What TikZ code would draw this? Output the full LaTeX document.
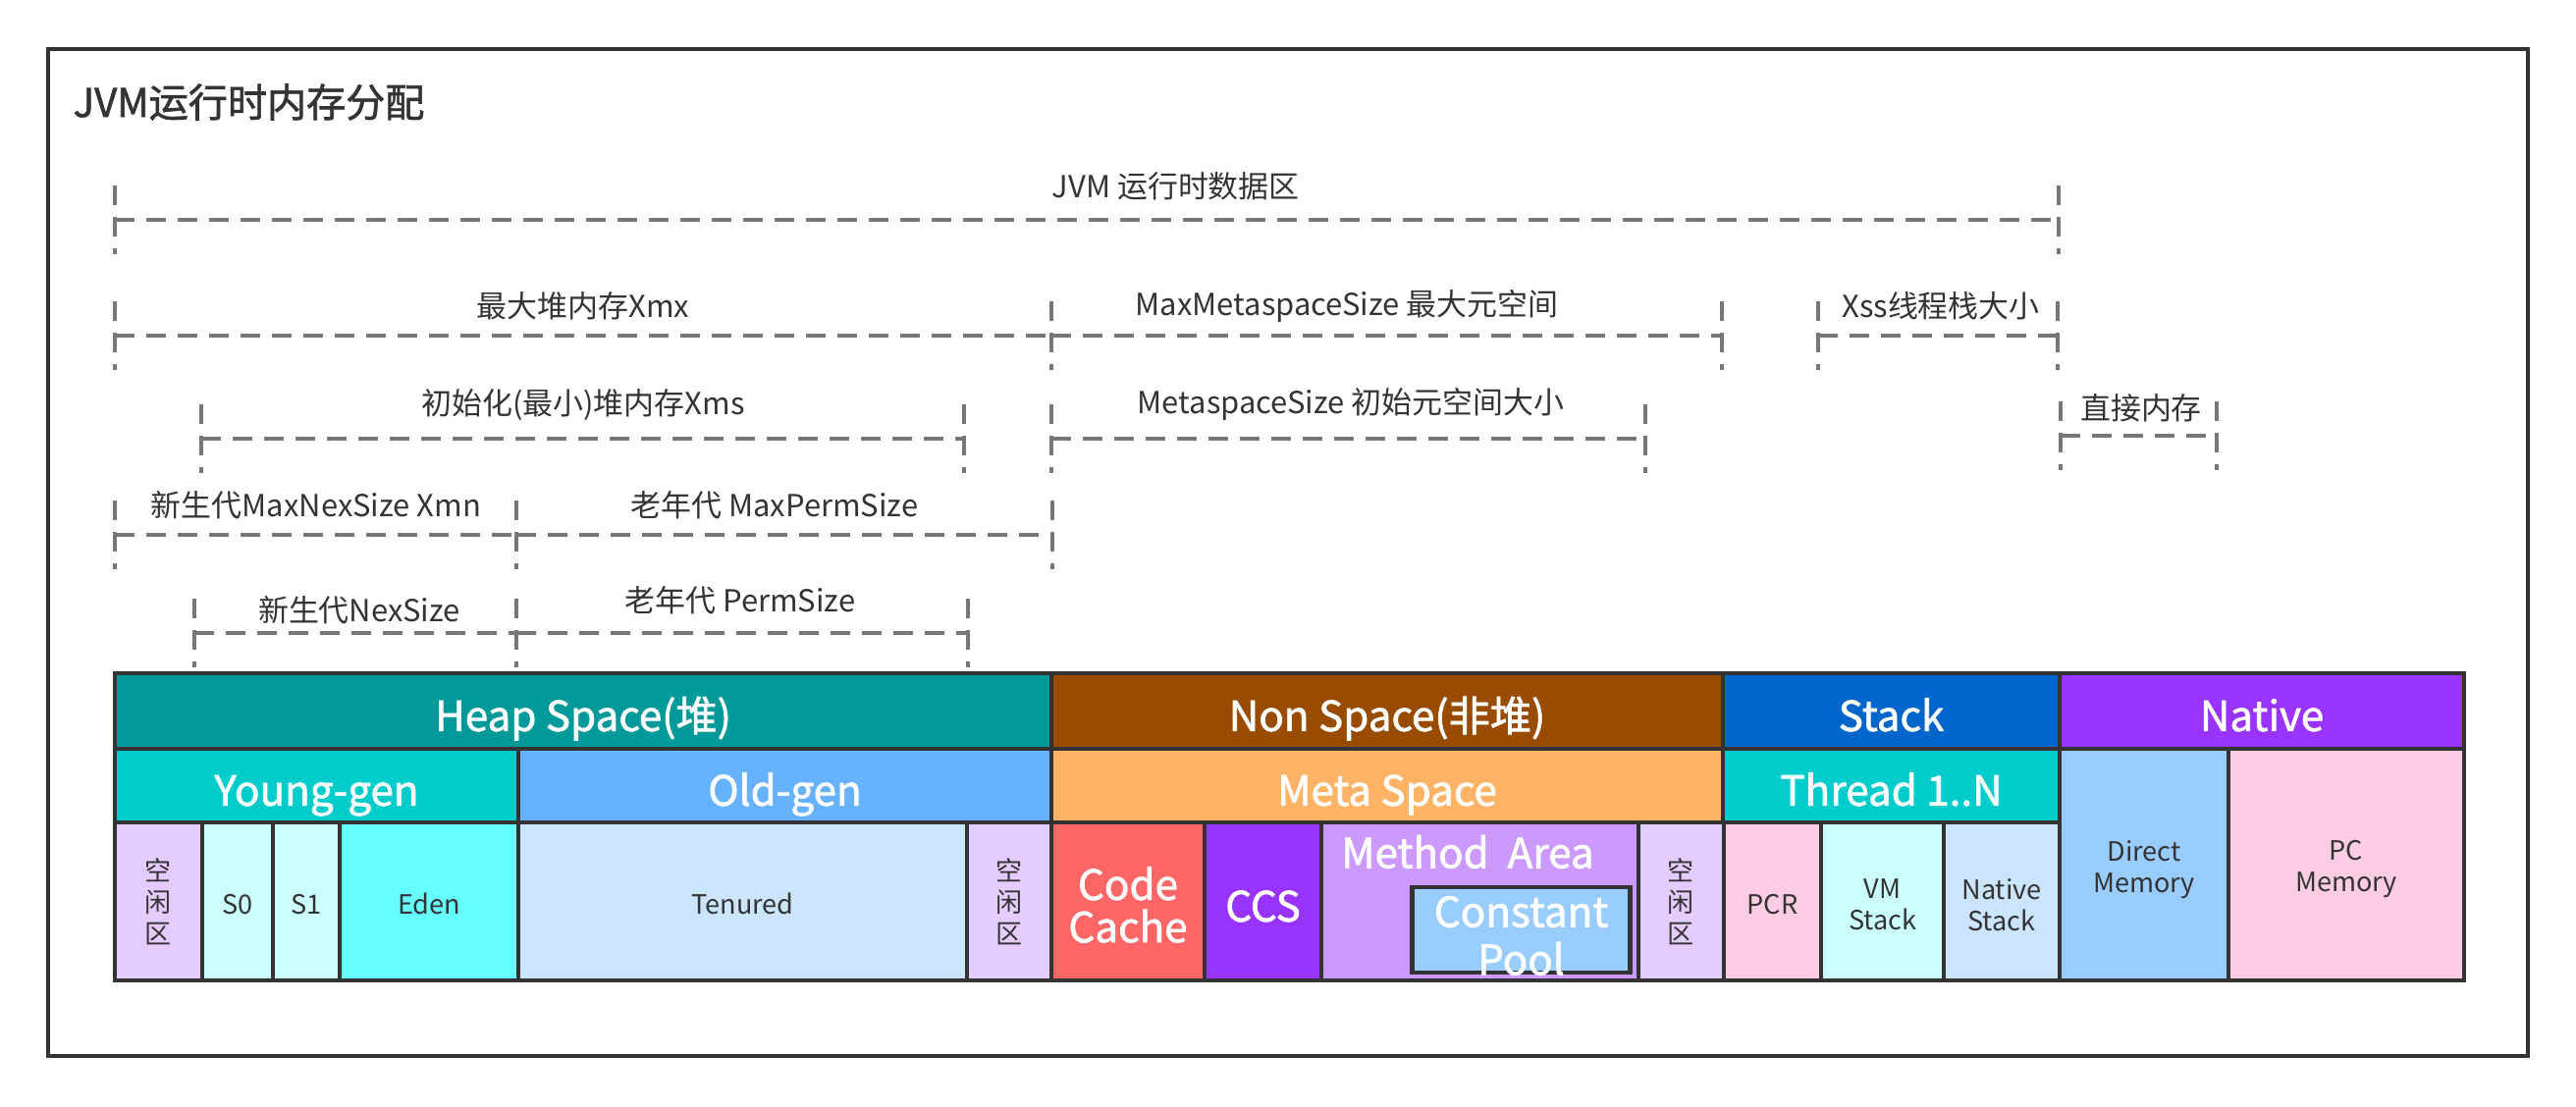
\documentclass[tikz,border=0pt]{standalone}
\usepackage{fontspec}
\setmainfont{Noto Sans CJK SC}
\newfontfamily\medfont[FakeBold=1.5]{Noto Sans CJK SC}
\usepackage{tikz}
\usetikzlibrary{positioning}

\definecolor{linec}{HTML}{333333}
\definecolor{txtc}{HTML}{333333}
\definecolor{dimc}{HTML}{777777}
\definecolor{heapc}{HTML}{009999}
\definecolor{nonheapc}{HTML}{994C00}
\definecolor{stackc}{HTML}{0066CC}
\definecolor{nativec}{HTML}{9933FF}
\definecolor{youngc}{HTML}{00CCCC}
\definecolor{oldc}{HTML}{66B2FF}
\definecolor{metac}{HTML}{FFB366}
\definecolor{freec}{HTML}{E5CCFF}
\definecolor{survc}{HTML}{CCFFFF}
\definecolor{edenc}{HTML}{66FFFF}
\definecolor{tenuredc}{HTML}{CCE5FF}
\definecolor{codec}{HTML}{FF6666}
\definecolor{methodc}{HTML}{CC99FF}
\definecolor{poolc}{HTML}{99CCFF}
\definecolor{pinkc}{HTML}{FFCCE6}

\begin{document}
\begin{tikzpicture}[x=0.01cm, y=-0.01cm,
   cell/.style={draw=linec, line width=1.1pt, inner sep=0pt, outer sep=0pt},
   big/.style={text=white, align=center, inner sep=0pt, font=\fontsize{12}{12.3}\medfont},
   head/.style={big, text height=12.8pt, text depth=1.2pt},
   small/.style={text=txtc, align=center, inner sep=0pt, font=\fontsize{7.7}{9.1}\selectfont},
   tsmall/.style={small, text height=7.6pt, text depth=0.26pt},
   dim/.style={draw=dimc, line width=1.4pt, dash pattern=on 5.7pt off 3.4pt},
   lbl/.style={text=txtc, font=\fontsize{8.8}{10}\selectfont, inner sep=0pt}]
   \useasboundingbox (0,0) rectangle (2624,1128);

   \node[draw=linec, line width=1.1pt, minimum width=25.24cm, minimum height=10.26cm] (frame) at (1312,563) {};
   \node[anchor=west, inner sep=0pt, text=txtc, font=\fontsize{11.4}{13}\medfont] (title) at (74,104) {JVM运行时内存分配};

   %row 1
   \node[cell, head, fill=heapc, minimum width=9.54cm, minimum height=0.77cm] (heap) at (594,724.5) {Heap Space(堆)};
   \node[cell, head, fill=nonheapc, minimum width=6.84cm, minimum height=0.77cm] (nonheap) at (1413,724.5) {Non Space(非堆)};
   \node[cell, head, fill=stackc, minimum width=3.43cm, minimum height=0.77cm] (stack) at (1926.5,724.5) {Stack};
   \node[cell, head, fill=nativec, minimum width=4.12cm, minimum height=0.77cm] (native) at (2304,724.5) {Native};

   %row 2
   \node[cell, head, fill=youngc, minimum width=4.11cm, minimum height=0.75cm] (young) at (322.5,800.5) {Young-gen};
   \node[cell, head, fill=oldc, minimum width=5.43cm, minimum height=0.75cm] (old) at (799.5,800.5) {Old-gen};
   \node[cell, head, fill=metac, minimum width=6.84cm, minimum height=0.75cm] (meta) at (1413,800.5) {Meta Space};
   \node[cell, head, fill=youngc, minimum width=3.43cm, minimum height=0.75cm] (thread) at (1926.5,800.5) {Thread 1..N};
   \node[cell, fill=poolc, minimum width=1.72cm, minimum height=2.36cm] (direct) at (2184,881) {};
   \node[cell, fill=pinkc, minimum width=2.40cm, minimum height=2.36cm] (pcmem) at (2390,881) {};
   \node[small, yshift=-1.4pt] (directlbl) at (direct) {Direct\\Memory};
   \node[small, yshift=-1.4pt] (pcmemlbl) at (pcmem) {PC\\Memory};

   %row 3 heap
   \node[cell, small, fill=freec, minimum width=0.89cm, minimum height=1.61cm] (free1) at (161.5,918.5) {空\\闲\\区};
   \node[cell, tsmall, fill=survc, minimum width=0.72cm, minimum height=1.61cm] (s0) at (242,918.5) {S0};
   \node[cell, tsmall, fill=survc, minimum width=0.68cm, minimum height=1.61cm] (s1) at (312,918.5) {S1};
   \node[cell, tsmall, fill=edenc, minimum width=1.82cm, minimum height=1.61cm] (eden) at (437,918.5) {Eden};
   \node[cell, tsmall, fill=tenuredc, minimum width=4.57cm, minimum height=1.61cm] (tenured) at (756.5,918.5) {Tenured};
   \node[cell, small, fill=freec, minimum width=0.86cm, minimum height=1.61cm] (free2) at (1028,918.5) {空\\闲\\区};

   %row 3 non heap
   \node[cell, fill=codec, minimum width=1.56cm, minimum height=1.61cm] (code) at (1149,918.5) {};
   \node[big, yshift=-1pt] (codelbl) at (code) {Code\\Cache};
   \node[cell, head, fill=nativec, minimum width=1.19cm, minimum height=1.61cm] (ccs) at (1286.5,918.5) {CCS};
   \node[cell, fill=methodc, minimum width=3.23cm, minimum height=1.61cm] (method) at (1507.5,918.5) {};
   \node[big] (methodlbl) at (1495,868) {Method\ \ Area};
   \node[cell, fill=poolc, line width=1.4pt, minimum width=2.21cm, minimum height=0.87cm] (pool) at (1549.5,947.5) {};
   \node[big, yshift=-1.7pt, font=\fontsize{12}{13.9}\medfont] (poollbl) at (pool) {Constant\\Pool};
   \node[cell, small, fill=freec, minimum width=0.87cm, minimum height=1.61cm] (free3) at (1712.5,918.5) {空\\闲\\区};

   %row 3 stack
   \node[cell, tsmall, fill=pinkc, minimum width=0.99cm, minimum height=1.61cm] (pcr) at (1805.5,918.5) {PCR};
   \node[cell, fill=survc, minimum width=1.25cm, minimum height=1.61cm] (vmstack) at (1917.5,918.5) {};
   \node[cell, fill=tenuredc, minimum width=1.18cm, minimum height=1.61cm] (nstack) at (2039,918.5) {};
   \node[small, yshift=-1pt] (vmstacklbl) at (vmstack) {VM\\Stack};
   \node[small, yshift=-1pt] (nstacklbl) at (nstack) {Native\\Stack};

   %dimension ends
   \coordinate (jvmL) at (117,224);  \coordinate (jvmR) at (2097,224);
   \coordinate (xmxL) at (117,342);  \coordinate (xmxR) at (1071,342);
   \coordinate (mmsL) at (1071,342); \coordinate (mmsR) at (1754,342);
   \coordinate (xssL) at (1852,342); \coordinate (xssR) at (2096,342);
   \coordinate (xmsL) at (205,447);  \coordinate (xmsR) at (982,447);
   \coordinate (msL) at (1071,447);  \coordinate (msR) at (1676,447);
   \coordinate (dirL) at (2099,444); \coordinate (dirR) at (2258,444);
   \coordinate (xmnL) at (117,545);  \coordinate (xmnR) at (526,545);
   \coordinate (mpsL) at (526,545);  \coordinate (mpsR) at (1072,545);
   \coordinate (nsL) at (198,645);   \coordinate (nsR) at (526,645);
   \coordinate (psL) at (526,645);   \coordinate (psR) at (986,645);

   %dimension labels
   \node[lbl, anchor=west] (jvmlbl) at (1071,190) {JVM 运行时数据区};
   \node[lbl] (xmxlbl) at (594,312) {最大堆内存Xmx};
   \node[lbl] (mmslbl) at (1372,312) {MaxMetaspaceSize 最大元空间};
   \node[lbl] (xsslbl) at (1977,312) {Xss线程栈大小};
   \node[lbl] (xmslbl) at (594,413) {初始化(最小)堆内存Xms};
   \node[lbl] (mslbl) at (1376,412) {MetaspaceSize 初始元空间大小};
   \node[lbl] (dirlbl) at (2181,416) {直接内存};
   \node[lbl] (xmnlbl) at (322,515) {新生代MaxNexSize Xmn};
   \node[lbl] (mpslbl) at (789,515) {老年代 MaxPermSize};
   \node[lbl] (nslbl) at (366,622) {新生代NexSize};
   \node[lbl] (pslbl) at (754,612) {老年代 PermSize};

   \path[dim]
    (jvmL) edge (jvmR)
    (xmxL) edge (xmxR)
    (mmsL) edge (mmsR)
    (xssL) edge (xssR)
    (xmsL) edge (xmsR)
    (msL) edge (msR)
    (dirL) edge (dirR)
    (xmnL) edge (xmnR)
    (mpsL) edge (mpsR)
    (nsL) edge (nsR)
    (psL) edge (psR)
    %ticks
    ([yshift=3.5mm]jvmL) edge ([yshift=-3.5mm]jvmL)
    ([yshift=3.5mm]jvmR) edge ([yshift=-3.5mm]jvmR)
    ([yshift=3.5mm]xmxL) edge ([yshift=-3.5mm]xmxL)
    ([yshift=3.5mm]xmxR) edge ([yshift=-3.5mm]xmxR)
    ([yshift=3.5mm]mmsR) edge ([yshift=-3.5mm]mmsR)
    ([yshift=3.5mm]xssL) edge ([yshift=-3.5mm]xssL)
    ([yshift=3.5mm]xssR) edge ([yshift=-3.5mm]xssR)
    ([yshift=3.5mm]xmsL) edge ([yshift=-3.5mm]xmsL)
    ([yshift=3.5mm]xmsR) edge ([yshift=-3.5mm]xmsR)
    ([yshift=3.5mm]msL) edge ([yshift=-3.5mm]msL)
    ([yshift=3.5mm]msR) edge ([yshift=-3.5mm]msR)
    ([yshift=3.5mm]dirL) edge ([yshift=-3.5mm]dirL)
    ([yshift=3.5mm]dirR) edge ([yshift=-3.5mm]dirR)
    ([yshift=3.5mm]xmnL) edge ([yshift=-3.5mm]xmnL)
    ([yshift=3.5mm]xmnR) edge ([yshift=-3.5mm]xmnR)
    ([yshift=3.5mm]mpsR) edge ([yshift=-3.5mm]mpsR)
    ([yshift=3.5mm]nsL) edge ([yshift=-3.5mm]nsL)
    ([yshift=3.5mm]nsR) edge ([yshift=-3.5mm]nsR)
    ([yshift=3.5mm]psR) edge ([yshift=-3.5mm]psR);
\end{tikzpicture}
\end{document}
